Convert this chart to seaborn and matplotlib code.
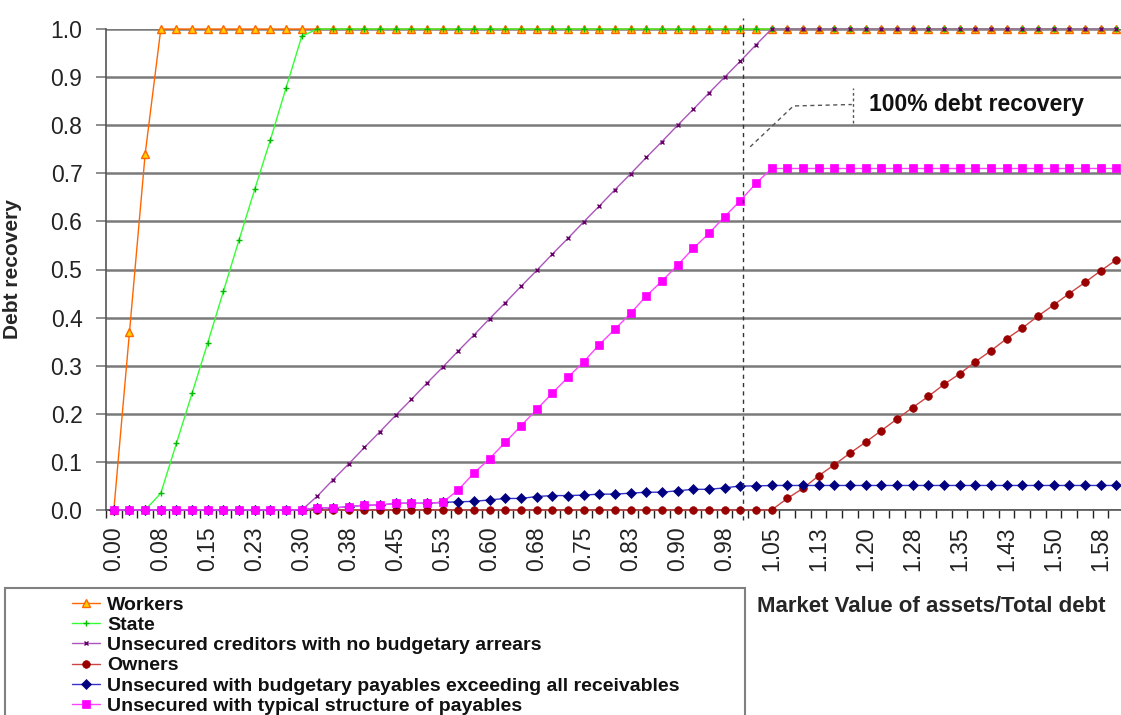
import matplotlib
matplotlib.use("Agg")
import matplotlib.pyplot as plt
from matplotlib.patches import Rectangle
from matplotlib.ticker import FixedLocator, NullFormatter
import seaborn as sns
import numpy as np

sns.set_theme(style="white")
plt.rcParams['font.family'] = ['Liberation Sans', 'DejaVu Sans']

# ---------------- data (categories of Market value / Total debt) ----------------
ratio = [0.000, 0.025, 0.050, 0.075, 0.100, 0.125, 0.150, 0.175, 0.200, 0.225,
         0.250, 0.275, 0.300, 0.325, 0.350, 0.375, 0.400, 0.425, 0.450, 0.475,
         0.500, 0.525, 0.550, 0.575, 0.600, 0.625, 0.650, 0.675, 0.700, 0.725,
         0.750, 0.775, 0.800, 0.825, 0.850, 0.875, 0.900, 0.925, 0.950, 0.975,
         1.000, 1.025, 1.050, 1.075, 1.100, 1.125, 1.150, 1.175, 1.200, 1.225,
         1.250, 1.275, 1.300, 1.325, 1.350, 1.375, 1.400, 1.425, 1.450, 1.475,
         1.500, 1.525, 1.550, 1.575, 1.600]

tick_labels = ["0.00", "0.08", "0.15", "0.23", "0.30", "0.38", "0.45", "0.53",
               "0.60", "0.68", "0.75", "0.83", "0.90", "0.98", "1.05", "1.13",
               "1.20", "1.28", "1.35", "1.43", "1.50", "1.58"]

workers = [0.0, 0.37, 0.74, 1.0, 1.0, 1.0, 1.0, 1.0, 1.0, 1.0,
           1.0, 1.0, 1.0, 1.0, 1.0, 1.0, 1.0, 1.0, 1.0, 1.0,
           1.0, 1.0, 1.0, 1.0, 1.0, 1.0, 1.0, 1.0, 1.0, 1.0,
           1.0, 1.0, 1.0, 1.0, 1.0, 1.0, 1.0, 1.0, 1.0, 1.0,
           1.0, 1.0, 1.0, 1.0, 1.0, 1.0, 1.0, 1.0, 1.0, 1.0,
           1.0, 1.0, 1.0, 1.0, 1.0, 1.0, 1.0, 1.0, 1.0, 1.0,
           1.0, 1.0, 1.0, 1.0, 1.0]

state = [0.0, 0.0, 0.0, 0.035, 0.139, 0.243, 0.348, 0.455, 0.562, 0.667,
         0.770, 0.878, 0.985, 1.0, 1.0, 1.0, 1.0, 1.0, 1.0, 1.0,
         1.0, 1.0, 1.0, 1.0, 1.0, 1.0, 1.0, 1.0, 1.0, 1.0,
         1.0, 1.0, 1.0, 1.0, 1.0, 1.0, 1.0, 1.0, 1.0, 1.0,
         1.0, 1.0, 1.0, 1.0, 1.0, 1.0, 1.0, 1.0, 1.0, 1.0,
         1.0, 1.0, 1.0, 1.0, 1.0, 1.0, 1.0, 1.0, 1.0, 1.0,
         1.0, 1.0, 1.0, 1.0, 1.0]

unsecured_no_arrears = [0.0, 0.0, 0.0, 0.0, 0.0, 0.0, 0.0, 0.0, 0.0, 0.0,
                        0.0, 0.0, 0.0, 0.029, 0.063, 0.096, 0.130, 0.163, 0.197, 0.230,
                        0.264, 0.297, 0.331, 0.364, 0.398, 0.431, 0.465, 0.498, 0.532, 0.565,
                        0.599, 0.632, 0.666, 0.699, 0.733, 0.766, 0.800, 0.833, 0.867, 0.900,
                        0.933, 0.967, 1.0, 1.0, 1.0, 1.0, 1.0, 1.0, 1.0, 1.0,
                        1.0, 1.0, 1.0, 1.0, 1.0, 1.0, 1.0, 1.0, 1.0, 1.0,
                        1.0, 1.0, 1.0, 1.0, 1.0]

owners = [0.0, 0.0, 0.0, 0.0, 0.0, 0.0, 0.0, 0.0, 0.0, 0.0,
          0.0, 0.0, 0.0, 0.0, 0.0, 0.0, 0.0, 0.0, 0.0, 0.0,
          0.0, 0.0, 0.0, 0.0, 0.0, 0.0, 0.0, 0.0, 0.0, 0.0,
          0.0, 0.0, 0.0, 0.0, 0.0, 0.0, 0.0, 0.0, 0.0, 0.0,
          0.0, 0.0, 0.0, 0.024, 0.045, 0.071, 0.094, 0.118, 0.141, 0.165,
          0.189, 0.213, 0.236, 0.261, 0.283, 0.308, 0.331, 0.356, 0.378, 0.403,
          0.426, 0.450, 0.473, 0.497, 0.520]

unsecured_budget_payables = [0.0, 0.0, 0.0, 0.0, 0.0, 0.0, 0.0, 0.0, 0.0, 0.0,
                             0.0, 0.0, 0.0, 0.005, 0.004, 0.007, 0.010, 0.010, 0.014, 0.014,
                             0.014, 0.016, 0.017, 0.018, 0.021, 0.024, 0.024, 0.028, 0.030, 0.030,
                             0.031, 0.033, 0.033, 0.035, 0.037, 0.037, 0.040, 0.043, 0.043, 0.046,
                             0.050, 0.050, 0.051, 0.051, 0.051, 0.051, 0.051, 0.051, 0.051, 0.051,
                             0.051, 0.051, 0.051, 0.051, 0.051, 0.051, 0.051, 0.051, 0.051, 0.051,
                             0.051, 0.051, 0.051, 0.051, 0.051]

unsecured_typical = [0.0, 0.0, 0.0, 0.0, 0.0, 0.0, 0.0, 0.0, 0.0, 0.0,
                     0.0, 0.0, 0.0, 0.005, 0.004, 0.007, 0.010, 0.010, 0.014, 0.014,
                     0.014, 0.016, 0.042, 0.077, 0.107, 0.141, 0.175, 0.209, 0.243, 0.276,
                     0.308, 0.344, 0.376, 0.409, 0.445, 0.476, 0.509, 0.544, 0.575, 0.610,
                     0.643, 0.679, 0.710, 0.710, 0.710, 0.710, 0.710, 0.710, 0.710, 0.710,
                     0.710, 0.710, 0.710, 0.710, 0.710, 0.710, 0.710, 0.710, 0.710, 0.710,
                     0.710, 0.710, 0.710, 0.710, 0.710]

series_names = ["Workers", "State", "Unsecured creditors with no budgetary arrears",
                "Owners", "Unsecured with budgetary payables exceeding all receivables",
                "Unsecured with typical structure of payables"]

# ---------------- figure ----------------
W, H = 1121, 715
fig = plt.figure(figsize=(W / 100, H / 100), dpi=100)
fig.patch.set_facecolor("white")
ax = fig.add_axes([106 / W, 205 / H, 1018 / W, 481 / H])
ax.set_facecolor("white")

pos = list(range(len(ratio)))  # category positions

styles = [
    dict(color="#FF6600", marker="^", ms=5.5, mfc="#FFD000", mec="#FF6600", mew=1.0),
    dict(color="#33FF33", marker="+", ms=5, mfc="#00BB00", mec="#00BB00", mew=1.0),
    dict(color="#AA55BB", marker="x", ms=3.5, mfc="#660066", mec="#660066", mew=1.0),
    dict(color="#CC4444", marker="o", ms=5.5, mfc="#990000", mec="#990000", mew=0.5),
    dict(color="#3333CC", marker="D", ms=5, mfc="#000080", mec="#000080", mew=0.5),
    dict(color="#FF44FF", marker="s", ms=6, mfc="#FF00FF", mec="#FF00FF", mew=0.5),
]
all_series = [workers, state, unsecured_no_arrears, owners,
              unsecured_budget_payables, unsecured_typical]

for name, vals, st in zip(series_names, all_series, styles):
    sns.lineplot(x=pos, y=vals, ax=ax, label=name, lw=1.0, clip_on=False,
                 color=st["color"], marker=st["marker"], markersize=st["ms"],
                 markerfacecolor=st["mfc"], markeredgecolor=st["mec"],
                 markeredgewidth=st["mew"], zorder=3)

ax.set_xlim(-0.5, len(ratio) - 0.5)
ax.set_ylim(0, 1.0)

# y axis
yt = [0.0, 0.1, 0.2, 0.3, 0.4, 0.5, 0.6, 0.7, 0.8, 0.9, 1.0]
ax.set_yticks(yt)
ax.set_yticklabels([f"{v:.1f}" for v in yt])
ax.yaxis.grid(True, color="#7A7A7A", lw=1.8, zorder=0)
ax.xaxis.grid(False)
ax.tick_params(axis="y", which="major", length=7, width=1.2, color="#7A7A7A",
               labelsize=16.5, pad=10, left=True, labelcolor="#222222")

# x axis: labels every 3rd category, small ticks between categories
ax.set_xticks(pos[::3])
ax.set_xticklabels(tick_labels, rotation=90)
ax.xaxis.set_minor_locator(FixedLocator([p + 0.5 for p in [-1] + pos]))
ax.xaxis.set_minor_formatter(NullFormatter())
ax.tick_params(axis="x", which="major", length=0, labelsize=16.5, pad=12,
               bottom=True, labelcolor="#222222")
ax.tick_params(axis="x", which="minor", length=6, width=1.0, color="#222222",
               bottom=True, direction="out")

for s in ["top", "right"]:
    ax.spines[s].set_visible(False)
ax.spines["left"].set_color("#555555")
ax.spines["left"].set_linewidth(1.2)
ax.spines["bottom"].set_color("#555555")
ax.spines["bottom"].set_linewidth(1.2)

ax.set_xlabel("")
ax.set_ylabel("Debt recovery", fontsize=15, fontweight="bold")
ax.yaxis.set_label_coords((22 - 106) / 1018, 0.5)

fig.text(757 / W, 1 - 607 / H, "Market Value of assets/Total debt",
         fontsize=16, fontweight="bold", ha="left", va="center")

# vertical dashed line marking 100% debt recovery
ax.plot([40.2, 40.2], [-0.02, 1.023], color="#333333", lw=1.0,
        ls=(0, (3, 3)), clip_on=False, zorder=4)
# callout
ax.plot([40.63, 43.39, 47.12], [0.755, 0.840, 0.843], color="#555555", lw=1.0,
        ls=(0, (3, 2.5)), clip_on=False, zorder=4)
ax.plot([47.22, 47.22], [0.805, 0.877], color="#555555", lw=1.0,
        ls=(0, (2, 2)), clip_on=False, zorder=4)
ax.text(48.2, 0.842, "100% debt recovery", fontsize=16.5, fontweight="bold",
        ha="left", va="center", color="#111111")

# legend
handles, labels = ax.get_legend_handles_labels()
leg = ax.legend(handles, labels, loc="upper left",
                bbox_to_anchor=(72 / W, 1 - 596 / H), bbox_transform=fig.transFigure,
                frameon=False, prop=dict(size=14, weight="bold"),
                handlelength=1.45, handletextpad=0.35, labelspacing=0.135,
                borderpad=0, borderaxespad=0)
for t in leg.get_texts():
    t.set_color("#111111")

fig.patches.append(Rectangle((5 / W, -0.02), 740 / W, (715 - 588) / H + 0.02,
                             transform=fig.transFigure, fill=False,
                             ec="#808080", lw=1.5))

fig.savefig("out.png", dpi=100, facecolor="white")
